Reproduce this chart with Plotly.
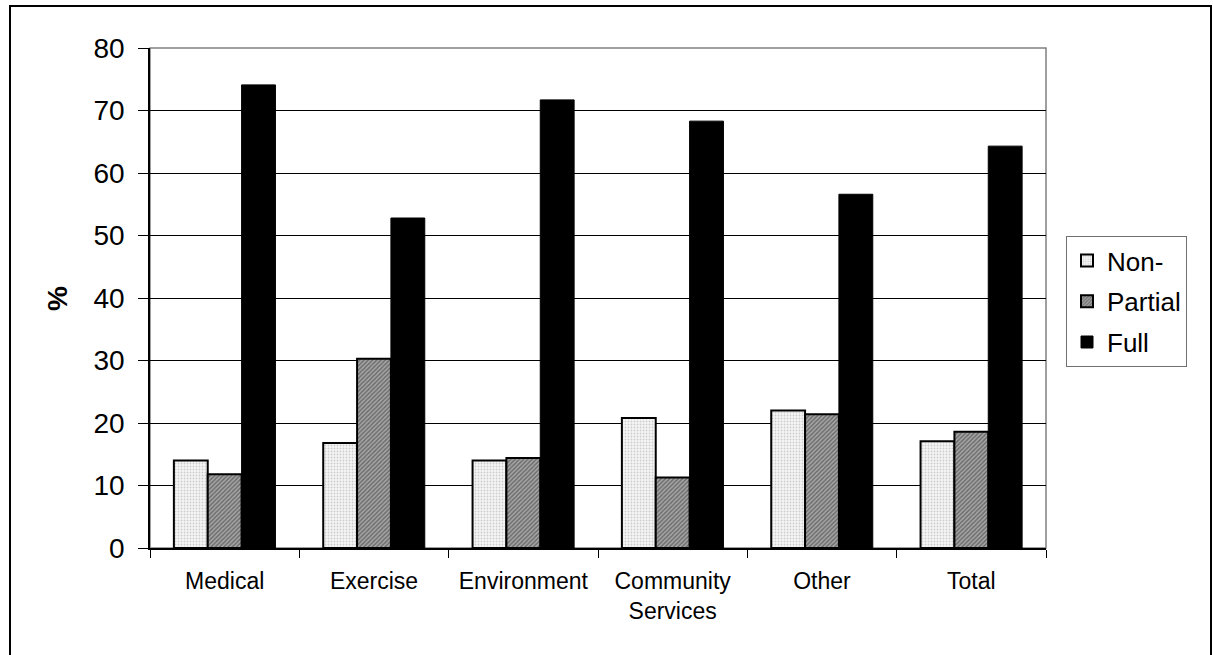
import plotly.graph_objects as go

categories = ["Medical", "Exercise", "Environment", "Community<br>Services", "Other", "Total"]
non_vals = [14.0, 16.8, 14.0, 20.8, 22.0, 17.1]
partial_vals = [11.8, 30.3, 14.4, 11.3, 21.4, 18.6]
full_vals = [74.1, 52.8, 71.7, 68.3, 56.6, 64.3]
y_ticks = [0, 10, 20, 30, 40, 50, 60, 70, 80]

FONT = "Liberation Sans, Arial, sans-serif"

# plot-area geometry in pixels (used to place paper-referenced decorations)
W, H = 1213, 655
L, R, T, B = 150, 1213 - 1046, 48, 655 - 548
PW, PH = W - L - R, H - T - B


def px_x(px):
    return (px - L) / PW


def px_y(py):
    return (H - B - py) / PH


fig = go.Figure()
fig.add_trace(go.Bar(
    name="Non-", x=categories, y=non_vals, legendgroup="a",
    marker=dict(color="white", line=dict(color="black", width=2),
                pattern=dict(shape=".", fgcolor="#a0a0a0", bgcolor="#f6f6f6",
                             size=3, solidity=0.3)),
))
fig.add_trace(go.Bar(
    name="Partial", x=categories, y=partial_vals, legendgroup="b",
    marker=dict(color="#7a7a7a", line=dict(color="black", width=2),
                pattern=dict(shape="/", fgcolor="#303030", bgcolor="#a8a8a8",
                             size=3, solidity=0.5)),
))
fig.add_trace(go.Bar(
    name="Full", x=categories, y=full_vals, legendgroup="c",
    marker=dict(color="black", line=dict(color="black", width=1)),
))

shapes = [
    # plot-area frame (grey)
    dict(type="rect", xref="paper", yref="paper", x0=0, x1=1, y0=0, y1=1,
         line=dict(color="#808080", width=1.5), layer="below"),
    # outer chart border
    dict(type="rect", xref="paper", yref="paper",
         x0=px_x(10), x1=px_x(1211), y0=px_y(664), y1=px_y(6),
         line=dict(color="black", width=2)),
]

fig.update_layout(
    width=W, height=H,
    margin=dict(l=L, r=R, t=T, b=B, autoexpand=False),
    paper_bgcolor="white", plot_bgcolor="white",
    font=dict(family=FONT, color="black"),
    barmode="group", bargap=0.32, bargroupgap=0,
    showlegend=True,
    legend=dict(
        x=px_x(1066), y=px_y(236), xanchor="left", yanchor="top",
        bordercolor="#707070", borderwidth=1, bgcolor="white",
        font=dict(family=FONT, size=26, color="black"),
        tracegroupgap=4, entrywidth=96, itemwidth=30,
    ),
    shapes=shapes,
    annotations=[
        dict(text="<b>%</b>", xref="paper", yref="paper",
             x=px_x(57), y=px_y(299), showarrow=False, textangle=-90,
             font=dict(family=FONT, size=28, color="black"),
             xanchor="center", yanchor="middle"),
    ],
)

fig.update_xaxes(
    type="category", showgrid=False,
    showline=True, linecolor="black", linewidth=1.5,
    ticks="outside", tickson="boundaries", ticklen=8, tickcolor="black",
    ticklabelstandoff=12,
    tickfont=dict(family=FONT, size=23, color="black"),
    zeroline=False,
)
fig.update_yaxes(
    range=[0, 80], tickvals=y_ticks, ticktext=[str(v) for v in y_ticks],
    showgrid=True, gridcolor="black", gridwidth=1,
    showline=True, linecolor="black", linewidth=1.5,
    ticks="outside", ticklen=10, tickcolor="black",
    ticklabelstandoff=8,
    tickfont=dict(family=FONT, size=28, color="black"),
    zeroline=False,
)

fig.write_html("out.html")
